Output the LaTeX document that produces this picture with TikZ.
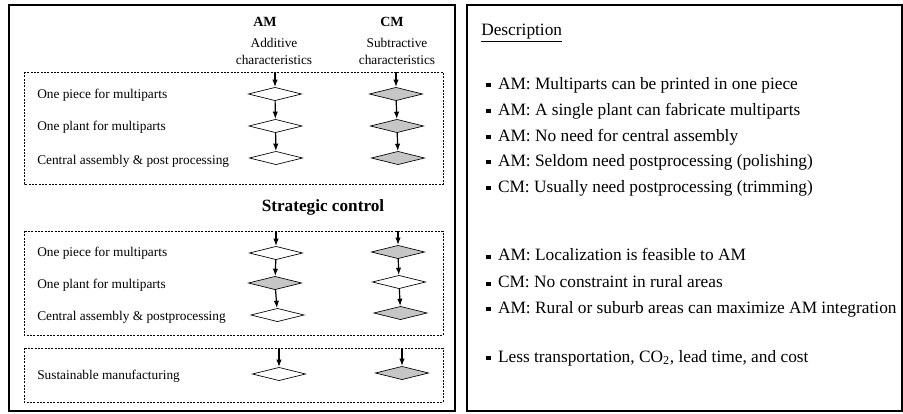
\documentclass[tikz,border=0pt]{standalone}
\usepackage{fontspec}
\setmainfont{Liberation Serif}
\usetikzlibrary{shapes.geometric,arrows.meta}

\tikzset{
  amdia/.style={diamond, draw, line width=0.5pt, minimum width=40pt, minimum height=10pt, inner sep=0pt, fill=white},
  cmdia/.style={amdia, fill=gray!45},
  flow/.style={-{Latex[length=5.5pt,width=4pt]}, line width=0.9pt},
  grp/.style={dash pattern=on 1.5pt off 1pt, line width=0.6pt},
  lbl/.style={anchor=west, inner sep=0.75pt, font=\fontsize{10}{11}\selectfont},
  desc/.style={anchor=west, inner sep=0.75pt, font=\fontsize{13}{15}\selectfont},
}
\newcommand{\bul}{\raisebox{0.25ex}{\rule{3.3pt}{3.3pt}}\hspace{5.5pt}}

\begin{document}
\begin{tikzpicture}[x=0.75pt,y=0.75pt,yscale=-1,xscale=1]
\useasboundingbox (0,0) rectangle (903,414);

%Shape: Rectangle [outer left]
\draw [line width=1.3pt]  (9,5) rectangle (455,411) ;
%Shape: Rectangle [outer right]
\draw [line width=1.3pt]  (467,5) rectangle (902,411) ;
%Shape: Rectangle [group 1]
\draw [grp]  (24,72) rectangle (443,184) ;
%Shape: Rectangle [group 2]
\draw [grp]  (24,231) rectangle (443,335) ;
%Shape: Rectangle [group 3]
\draw [grp]  (24,348) rectangle (443,402) ;

% Text Node
\node (amh) at (265,22) [inner sep=0.75pt, font=\fontsize{10.5}{11}\selectfont\bfseries] {AM};
% Text Node
\node (cmh) at (392,22) [inner sep=0.75pt, font=\fontsize{10.5}{11}\selectfont\bfseries] {CM};
% Text Node
\node (amc) at (274,51.5) [inner sep=0.75pt, align=center, font=\fontsize{10}{12.75}\selectfont] {Additive\\characteristics};
% Text Node
\node (cmc) at (397,51.5) [inner sep=0.75pt, align=center, font=\fontsize{10}{12.75}\selectfont] {Subtractive\\characteristics};
% Text Node
\node (sc) at (323,207) [inner sep=0.75pt, font=\fontsize{12.9}{15}\selectfont\bfseries] {Strategic control};

% Text Node
\node (l1) at (36,95) [lbl] {One piece for multiparts};
% Text Node
\node (l2) at (36,127) [lbl] {One plant for multiparts};
% Text Node
\node (l3) at (36,161) [lbl] {Central assembly \& post processing};
% Text Node
\node (l4) at (36,253) [lbl] {One piece for multiparts};
% Text Node
\node (l5) at (36,285) [lbl] {One plant for multiparts};
% Text Node
\node (l6) at (36,317) [lbl] {Central assembly \& postprocessing};
% Text Node
\node (l7) at (36,376) [lbl] {Sustainable manufacturing};

%Shape: Diamond
\node (a1) at (275,94) [amdia] {};
\node (a2) at (275.5,126) [amdia] {};
\node (a3) at (276,158) [amdia] {};
\node (c1) at (396,94) [cmdia] {};
\node (c2) at (397,126) [cmdia] {};
\node (c3) at (398,158) [cmdia] {};
\node (a4) at (276,253) [amdia] {};
\node (a5) at (275,283) [cmdia] {};
\node (a6) at (277.5,315) [amdia] {};
\node (c4) at (398,252) [cmdia] {};
\node (c5) at (399,282) [amdia] {};
\node (c6) at (400.5,313) [cmdia] {};
\node (a7) at (279,374) [amdia] {};
\node (c7) at (402,373) [cmdia] {};

\coordinate (ta1) at (275,72);
\coordinate (tc1) at (396,72);
\coordinate (ta4) at (276,231);
\coordinate (tc4) at (398,231);
\coordinate (ta7) at (279,348);
\coordinate (tc7) at (402,348);

%Straight Lines [arrows]
\draw [flow] (ta1) -- (a1) ;
\draw [flow] (a1) -- (a2) ;
\draw [flow] (a2) -- (a3) ;
\draw [flow] (tc1) -- (c1) ;
\draw [flow] (c1) -- (c2) ;
\draw [flow] (c2) -- (c3) ;
\draw [flow] (ta4) -- (a4) ;
\draw [flow] (a4) -- (a5) ;
\draw [flow] (a5) -- (a6) ;
\draw [flow] (tc4) -- (c4) ;
\draw [flow] (c4) -- (c5) ;
\draw [flow] (c5) -- (c6) ;
\draw [flow] (ta7) -- (a7) ;
\draw [flow] (tc7) -- (c7) ;

% Text Node
\node (dh) at (480,33) [desc] {\underline{Description}};
% Text Node
\node (d1) at (485,85) [desc] {\bul AM: Multiparts can be printed in one piece};
% Text Node
\node (d2) at (485,111) [desc] {\bul AM: A single plant can fabricate multiparts};
% Text Node
\node (d3) at (485,137) [desc] {\bul AM: No need for central assembly};
% Text Node
\node (d4) at (485,162) [desc] {\bul AM: Seldom need postprocessing (polishing)};
% Text Node
\node (d5) at (485,188) [desc] {\bul CM: Usually need postprocessing (trimming)};
% Text Node
\node (d6) at (485,255) [desc] {\bul AM: Localization is feasible to AM};
% Text Node
\node (d7) at (485,282) [desc] {\bul CM: No constraint in rural areas};
% Text Node
\node (d8) at (485,309) [desc] {\bul AM: Rural or suburb areas can maximize AM integration};
% Text Node
\node (d9) at (485,358) [desc] {\bul Less transportation, CO\textsubscript{2}, lead time, and cost};
\end{tikzpicture}
\end{document}
